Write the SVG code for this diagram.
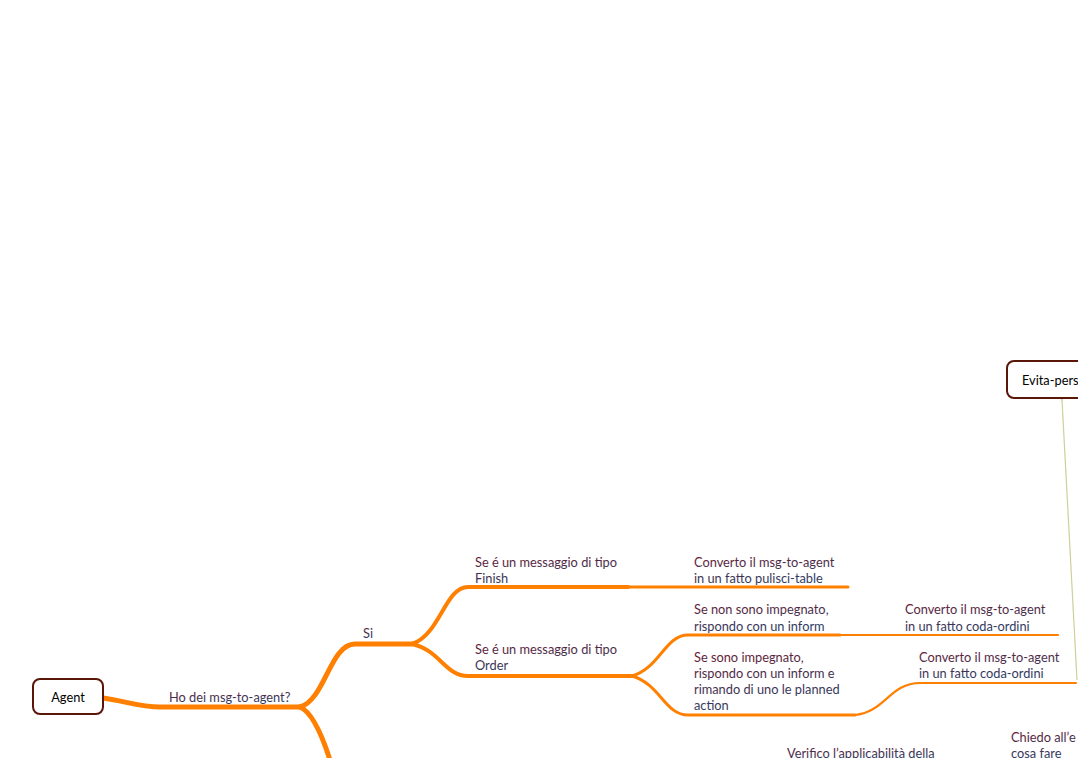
<svg xmlns="http://www.w3.org/2000/svg" width="1078" height="758" viewBox="0 0 1078 758">
  <defs>
    <linearGradient id="ink" x1="0" y1="0" x2="0.3" y2="1">
      <stop offset="0" stop-color="#6a1c30"/>
      <stop offset="1" stop-color="#2c3c62"/>
    </linearGradient>
    <marker id="chev" viewBox="0 0 10 10" refX="1" refY="5" markerWidth="8" markerHeight="8" orient="auto">
      <path d="M9,1 L1,5 L9,9" fill="none" stroke="#cfcf9a" stroke-width="1.2"/>
    </marker>
    <style>
      .box { fill: #ffffff; stroke: #5a1608; stroke-width: 2; }
      .title { font-family: "Lato", "Liberation Sans", sans-serif; font-size: 12.8px; fill: #000000; }
      .lbl { font-family: "Lato", "Liberation Sans", sans-serif; font-size: 12.8px; fill: url(#ink); }
      .br { fill: none; stroke: #ff8000; stroke-linecap: round; stroke-linejoin: round; }
      .w5 { stroke-width: 5; }
      .w4 { stroke-width: 4; }
      .w3 { stroke-width: 3; }
      .w2 { stroke-width: 2.2; }
    </style>
  </defs>

  <rect width="1078" height="758" fill="#ffffff"/>

  <!-- branches -->
  <g id="connectors">
    <path class="br w5" d="M103,698 C125,701 140,707 160,707 L300,707"/>
    <path class="br w5" d="M300,707 C325,700 330,644 355,644 L412,644"/>
    <path class="br w5" d="M300,707 C312,712 322,735 330,760"/>
    <path class="br w4" d="M412,644 C440,635 445,587 468,587 L628,587"/>
    <path class="br w3" d="M628,587 L848,587"/>
    <path class="br w4" d="M412,644 C440,650 445,676 468,676 L632,676"/>
    <path class="br w3" d="M632,676 C660,668 665,635 688,635 L840,635"/>
    <path class="br w2" d="M840,635 L1058,635"/>
    <path class="br w3" d="M632,676 C660,684 665,715 688,715 L855,715"/>
    <path class="br w2" d="M855,715 C885,712 890,683 920,683 L1076,683"/>
    <path d="M1077,680 L1062,400" fill="none" stroke="#cfcf9a" stroke-width="1.2" marker-end="url(#chev)"/>
  </g>

  <g id="agent">
    <rect class="box" x="33" y="679" width="70" height="35" rx="7"/>
    <text class="title" x="68" y="702" text-anchor="middle">Agent</text>
  </g>

  <g id="evita-pers">
    <rect class="box" x="1007" y="361" width="90" height="37" rx="7"/>
    <text class="title" x="1022" y="385">Evita-pers</text>
  </g>

  <g id="ho-msg">
    <text class="lbl" x="169" y="702">Ho dei msg-to-agent?</text>
  </g>
  <g id="si">
    <text class="lbl" x="363" y="638">Si</text>
  </g>
  <g id="tipo-finish">
    <text class="lbl" x="475" y="567">Se é un messaggio di tipo<tspan x="475" y="583">Finish</tspan></text>
  </g>
  <g id="pulisci-table">
    <text class="lbl" x="694" y="567">Converto il msg-to-agent<tspan x="694" y="583">in un fatto pulisci-table</tspan></text>
  </g>
  <g id="tipo-order">
    <text class="lbl" x="475" y="654">Se é un messaggio di tipo<tspan x="475" y="670">Order</tspan></text>
  </g>
  <g id="non-impegnato">
    <text class="lbl" x="694" y="614">Se non sono impegnato,<tspan x="694" y="631">rispondo con un inform</tspan></text>
  </g>
  <g id="coda-ordini-1">
    <text class="lbl" x="905" y="614">Converto il msg-to-agent<tspan x="905" y="631">in un fatto coda-ordini</tspan></text>
  </g>
  <g id="impegnato">
    <text class="lbl" x="694" y="662">Se sono impegnato,<tspan x="694" y="678">rispondo con un inform e</tspan><tspan x="694" y="694">rimando di uno le planned</tspan><tspan x="694" y="710">action</tspan></text>
  </g>
  <g id="coda-ordini-2">
    <text class="lbl" x="919" y="662">Converto il msg-to-agent<tspan x="919" y="678">in un fatto coda-ordini</tspan></text>
  </g>
  <g id="verifico">
    <text class="lbl" x="787" y="758">Verifico l’applicabilità della</text>
  </g>
  <g id="chiedo">
    <text class="lbl" x="1011" y="742">Chiedo all’e<tspan x="1011" y="758">cosa fare</tspan></text>
  </g>
</svg>
